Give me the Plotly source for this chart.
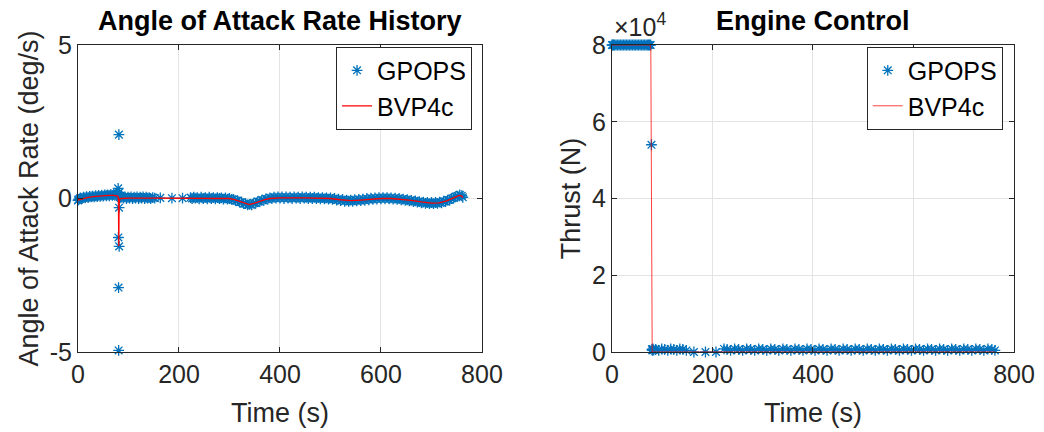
import plotly.graph_objects as go

# ---------------- data ----------------
# GPOPS collocation times (s), shared by both panels
t_gpops = [0, 1, 3, 5, 8, 11, 14, 17, 20, 23,
           26, 29, 32, 35, 38, 41, 44, 47, 50, 53,
           56, 59, 62, 65, 68, 71, 73, 75, 77, 78.5,
           79.5, 80, 80.3, 80.5, 81, 81.3, 81.5, 81.8, 83, 85,
           87, 90, 93, 96, 99, 102, 105, 108, 111, 114,
           117, 120, 123, 126, 129, 132, 135, 138, 141, 144,
           148, 152, 163, 186, 207, 223, 226, 229, 232, 236,
           240, 244, 248, 252, 256, 260, 264, 268, 272, 276,
           280, 284, 288, 292, 296, 300, 304, 308, 312, 316,
           320, 324, 328, 332, 336, 340, 344, 348, 352, 356,
           360, 364, 368, 372, 376, 380, 384, 388, 392, 396,
           400, 404, 408, 412, 416, 420, 424, 428, 432, 436,
           440, 444, 448, 452, 456, 460, 464, 468, 472, 476,
           480, 484, 488, 492, 496, 500, 504, 508, 512, 516,
           520, 524, 528, 532, 536, 540, 544, 548, 552, 556,
           560, 564, 568, 572, 576, 580, 584, 588, 592, 596,
           600, 604, 608, 612, 616, 620, 624, 628, 632, 636,
           640, 644, 648, 652, 656, 660, 664, 668, 672, 676,
           680, 684, 688, 692, 696, 700, 704, 708, 712, 716,
           720, 724, 728, 732, 736, 740, 744, 748, 752, 756,
           760, 762]

# angle of attack rate (deg/s) from GPOPS
aoa_rate_gpops = [-0.06, -0.03, -0.01, 0.02, 0.0, 0.04, 0.02, 0.06, 0.03, 0.07,
                  0.05, 0.08, 0.05, 0.09, 0.06, 0.10, 0.07, 0.11, 0.08, 0.12,
                  0.09, 0.12, 0.09, 0.13, 0.10, 0.13, 0.10, 0.14, 0.12, 0.15,
                  0.33, -1.27, -2.90, -4.95, 2.08, -0.30, -1.56, 0.20, 0.05, 0.02,
                  0.06, 0.01, 0.05, 0.0, 0.04, 0.01, 0.05, 0.0, 0.04, 0.01,
                  0.05, 0.0, 0.04, 0.01, 0.05, 0.0, 0.04, 0.01, 0.03, 0.0,
                  0.03, 0.01, 0.02, 0.01, 0.01, 0.03, 0.0, 0.04, 0.01, 0.03,
                  -0.01, 0.04, 0.0, 0.03, -0.01, 0.04, 0.0, 0.03, -0.01, 0.03,
                  0.0, 0.02, -0.02, 0.02, -0.02, 0.0, -0.03, -0.03, -0.07, -0.07,
                  -0.12, -0.12, -0.17, -0.17, -0.21, -0.19, -0.21, -0.15, -0.15, -0.10,
                  -0.10, -0.05, -0.06, -0.01, -0.02, 0.02, 0.0, 0.04, 0.01, 0.05,
                  0.01, 0.05, 0.0, 0.05, 0.01, 0.04, 0.0, 0.05, 0.01, 0.04,
                  0.0, 0.05, 0.01, 0.04, 0.0, 0.04, 0.0, 0.04, 0.0, 0.03,
                  -0.01, 0.03, -0.01, 0.02, -0.02, 0.02, -0.03, 0.0, -0.05, -0.02,
                  -0.07, -0.03, -0.09, -0.05, -0.09, -0.05, -0.09, -0.04, -0.08, -0.03,
                  -0.07, -0.02, -0.06, 0.0, -0.04, 0.01, -0.03, 0.02, -0.02, 0.03,
                  -0.01, 0.03, -0.01, 0.03, -0.01, 0.02, -0.02, 0.01, -0.03, 0.0,
                  -0.04, -0.02, -0.06, -0.04, -0.08, -0.06, -0.10, -0.08, -0.12, -0.10,
                  -0.14, -0.12, -0.16, -0.13, -0.17, -0.13, -0.17, -0.13, -0.16, -0.12,
                  -0.14, -0.09, -0.10, -0.05, -0.05, 0.0, 0.02, 0.06, 0.08, 0.12,
                  0.09, 0.04]

# thrust (N) from GPOPS
thrust_gpops = [80000, 80000, 80000, 80000, 80000, 80000, 80000, 80000, 80000, 80000,
                80000, 80000, 80000, 80000, 80000, 80000, 80000, 80000, 80000, 80000,
                80000, 80000, 80000, 80000, 80000, 80000, 80000, 80000, 80000, 54000,
                700, -600, 400, -800, 600, -400, 800, -700, 500, -800,
                700, -800, 400, -700, 800, -500, 700, -800, 400, -700,
                800, -500, 700, -800, 400, -700, 800, -500, 700, -800,
                400, -700, 0, 0, 0, 800, -500, 700, -800, 400,
                -700, 800, -500, 700, -800, 400, -700, 800, -500, 700,
                -800, 400, -700, 800, -500, 700, -800, 400, -700, 800,
                -500, 700, -800, 400, -700, 800, -500, 700, -800, 400,
                -700, 800, -500, 700, -800, 400, -700, 800, -500, 700,
                -800, 400, -700, 800, -500, 700, -800, 400, -700, 800,
                -500, 700, -800, 400, -700, 800, -500, 700, -800, 400,
                -700, 800, -500, 700, -800, 400, -700, 800, -500, 700,
                -800, 400, -700, 800, -500, 700, -800, 400, -700, 800,
                -500, 700, -800, 400, -700, 800, -500, 700, -800, 400,
                -700, 800, -500, 700, -800, 400, -700, 800, -500, 700,
                -800, 400, -700, 800, -500, 700, -800, 400, -700, 800,
                -500, 700, -800, 400, -700, 800, -500, 700, -800, 400,
                -700, 800, -500, 700, -800, 400, -700, 800, -500, 700,
                -800, 400]

# BVP4c solution
t_bvp_aoa = [0, 10, 20, 30, 40, 50, 60, 70, 76, 79, 80, 80.3, 80.8, 81.2, 81.6, 82.5, 85,
             100, 150, 200, 250, 290, 300, 310, 320, 330, 339, 350, 360, 370, 380, 400,
             450, 500, 520, 541, 560, 580, 600, 620, 640, 660, 680, 700, 715, 730, 745,
             755, 760, 762]
aoa_rate_bvp = [-0.05, 0.0, 0.04, 0.06, 0.08, 0.09, 0.10, 0.10, 0.10, 0.08, 0.0, -1.55,
                -1.55, -0.6, -0.15, -0.02, 0.0, 0.01, 0.01, 0.01, 0.01, 0.01, 0.0, -0.04,
                -0.10, -0.17, -0.20, -0.15, -0.09, -0.04, 0.0, 0.02, 0.02, 0.0, -0.04,
                -0.07, -0.05, -0.02, 0.0, 0.0, -0.02, -0.06, -0.11, -0.15, -0.14, -0.08,
                0.03, 0.10, 0.08, 0.03]

t_bvp_thrust = [0, 76, 77.3, 77.8, 78.3, 79, 80, 762]
thrust_bvp = [80000, 80000, 79000, 60000, 20000, 800, 0, 0]

x_ticks = [0, 200, 400, 600, 800]
aoa_ticks = [-5, 0, 5]
aoa_tick_text = ["-5", "0", "5"]
thrust_ticks = [0, 20000, 40000, 60000, 80000]
thrust_tick_text = ["0", "2", "4", "6", "8"]

# ---------------- figure ----------------
BLUE = "#0072BD"
AX = "#262626"
GRID = "#e3e3e3"
FONT = "Liberation Sans, Arial, Helvetica, sans-serif"

fig = go.Figure()

marker = dict(symbol="asterisk-open", size=9, color=BLUE, line=dict(color=BLUE, width=1.3))

fig.add_trace(go.Scatter(x=t_gpops, y=aoa_rate_gpops, mode="markers", name="GPOPS",
                         marker=marker, cliponaxis=False, xaxis="x", yaxis="y",
                         legend="legend"))
fig.add_trace(go.Scatter(x=t_bvp_aoa, y=aoa_rate_bvp, mode="lines", name="BVP4c",
                         line=dict(color="#ff0000", width=1.3), xaxis="x", yaxis="y",
                         legend="legend"))
fig.add_trace(go.Scatter(x=t_gpops, y=thrust_gpops, mode="markers", name="GPOPS",
                         marker=marker, cliponaxis=False, xaxis="x2", yaxis="y2",
                         legend="legend2"))
fig.add_trace(go.Scatter(x=t_bvp_thrust, y=thrust_bvp, mode="lines", name="BVP4c",
                         line=dict(color="rgba(255,0,0,0.75)", width=1), xaxis="x2",
                         yaxis="y2", legend="legend2"))

axis_common = dict(showline=True, linecolor=AX, linewidth=1, mirror="ticks",
                   ticks="inside", ticklen=5, tickcolor=AX, showgrid=True,
                   gridcolor=GRID, gridwidth=1, zeroline=False, automargin=False,
                   tickfont=dict(family=FONT, size=25, color=AX))

title_font = dict(family=FONT, size=27, color=AX)
legend_font = dict(family=FONT, size=25, color="black")

fig.update_layout(
    width=1044, height=432,
    margin=dict(l=78, r=30, t=45, b=80),
    paper_bgcolor="white", plot_bgcolor="white",
    font=dict(family=FONT, color=AX),
    xaxis=dict(domain=[0, 0.4316], range=[0, 800], tickvals=x_ticks,
               title=dict(text="Time (s)", font=title_font, standoff=16),
               anchor="y", **axis_common),
    yaxis=dict(domain=[0, 1], range=[-5, 5], tickvals=aoa_ticks, ticktext=aoa_tick_text,
               title=dict(text="Angle of Attack Rate (deg/s)", font=title_font, standoff=3),
               anchor="x", **axis_common),
    xaxis2=dict(domain=[0.5705, 1], range=[0, 800], tickvals=x_ticks,
                title=dict(text="Time (s)", font=title_font, standoff=16),
                anchor="y2", **axis_common),
    yaxis2=dict(domain=[0, 1], range=[0, 80000], tickvals=thrust_ticks,
                ticktext=thrust_tick_text,
                title=dict(text="Thrust (N)", font=title_font, standoff=3),
                anchor="x2", **axis_common),
    legend=dict(x=0.421, y=0.995, xanchor="right", yanchor="top",
                bgcolor="white", bordercolor=AX, borderwidth=1,
                font=legend_font, tracegroupgap=0),
    legend2=dict(x=0.988, y=0.995, xanchor="right", yanchor="top",
                 bgcolor="white", bordercolor=AX, borderwidth=1,
                 font=legend_font, tracegroupgap=0),
    showlegend=True,
    annotations=[
        dict(text="<b>Angle of Attack Rate History</b>", x=0.2158, y=1.0, xref="paper",
             yref="paper", xanchor="center", yanchor="bottom", yshift=7, showarrow=False,
             font=dict(family=FONT, size=27, color="black")),
        dict(text="<b>Engine Control</b>", x=0.785, y=1.0, xref="paper",
             yref="paper", xanchor="center", yanchor="bottom", yshift=7, showarrow=False,
             font=dict(family=FONT, size=27, color="black")),
        dict(text="×10<sup>4</sup>", x=0.5705, y=1.0, xref="paper", yref="paper",
             xanchor="left", yanchor="bottom", yshift=2, showarrow=False,
             font=dict(family=FONT, size=25, color=AX)),
    ],
)

fig.write_html("out.html", config={"displayModeBar": False},
               post_script="document.body.style.margin='0px';document.body.style.padding='0px';")
